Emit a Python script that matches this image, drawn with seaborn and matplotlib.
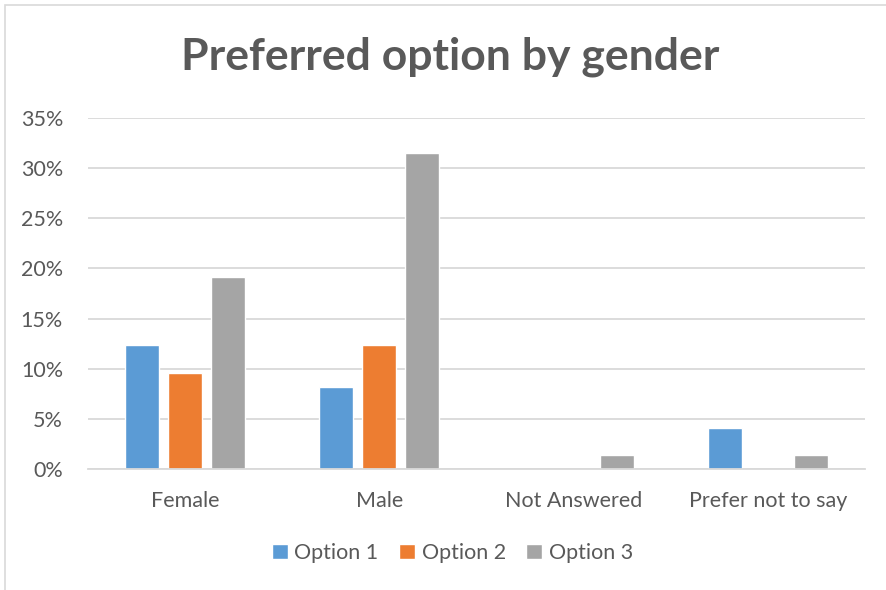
import matplotlib
matplotlib.use("Agg")
import matplotlib.pyplot as plt
import matplotlib.patches as mpatches
import matplotlib.ticker as mticker
import seaborn as sns
import pandas as pd

# === ДАННЫЕ ===
categories = ["Female", "Male", "Not Answered", "Prefer not to say"]
options = ["Option 1", "Option 2", "Option 3"]
option1 = [9 / 73, 6 / 73, 0.0, 3 / 73]
option2 = [7 / 73, 9 / 73, 0.0, 0.0]
option3 = [14 / 73, 23 / 73, 1 / 73, 1 / 73]
colors = ["#5B9BD5", "#ED7D31", "#A5A5A5"]

rows = []
for opt, vals in zip(options, [option1, option2, option3]):
    for cat, v in zip(categories, vals):
        rows.append({"gender": cat, "option": opt, "share": v})
df = pd.DataFrame(rows)

sns.set_style("white")
plt.rcParams["font.family"] = ["Lato", "DejaVu Sans"]

fig = plt.figure(figsize=(8.87, 5.9), dpi=100)
ax = fig.add_axes([88 / 887, 1 - 469 / 590, (865 - 88) / 887, (469 - 118) / 590])

sns.barplot(
    data=df, x="gender", y="share", hue="option",
    order=categories, hue_order=options, palette=colors,
    width=0.665, gap=0.21, ax=ax, legend=True, saturation=1
)

ax.set_ylim(0, 0.35)
ax.set_xlim(-0.5, 3.5)
ax.yaxis.set_major_locator(mticker.MultipleLocator(0.05))
ax.yaxis.set_major_formatter(mticker.PercentFormatter(1.0, decimals=0))
ax.grid(axis="y", color="#D9D9D9", linewidth=1.3)
ax.set_axisbelow(True)
for s in ["top", "right", "left"]:
    ax.spines[s].set_visible(False)
ax.spines["bottom"].set_color("#D9D9D9")
ax.spines["bottom"].set_linewidth(1.3)
ax.tick_params(axis="both", length=0, labelsize=15.5, labelcolor="#595959")
ax.tick_params(axis="x", pad=16)
ax.tick_params(axis="y", pad=18)
ax.set_xlabel("")
ax.set_ylabel("")

fig.suptitle("Preferred option by gender", x=0.508, y=1 - 57 / 590, va="center",
             fontsize=32, fontweight="bold", color="#595959")

ax.legend(loc="center", bbox_to_anchor=(0.51, 1 - 553 / 590), bbox_transform=fig.transFigure,
          ncol=3, frameon=False, fontsize=15.5, labelcolor="#595959",
          handlelength=0.75, handleheight=0.75, handletextpad=0.3, columnspacing=0.95)

# рамка области диаграммы
fig.patches.append(mpatches.Rectangle((5 / 887, -0.1), 1.2, 1 - 5 / 590 + 0.1,
                                      transform=fig.transFigure, fill=False,
                                      edgecolor="#D9D9D9", linewidth=1.2))

fig.savefig("out.png", dpi=100)
